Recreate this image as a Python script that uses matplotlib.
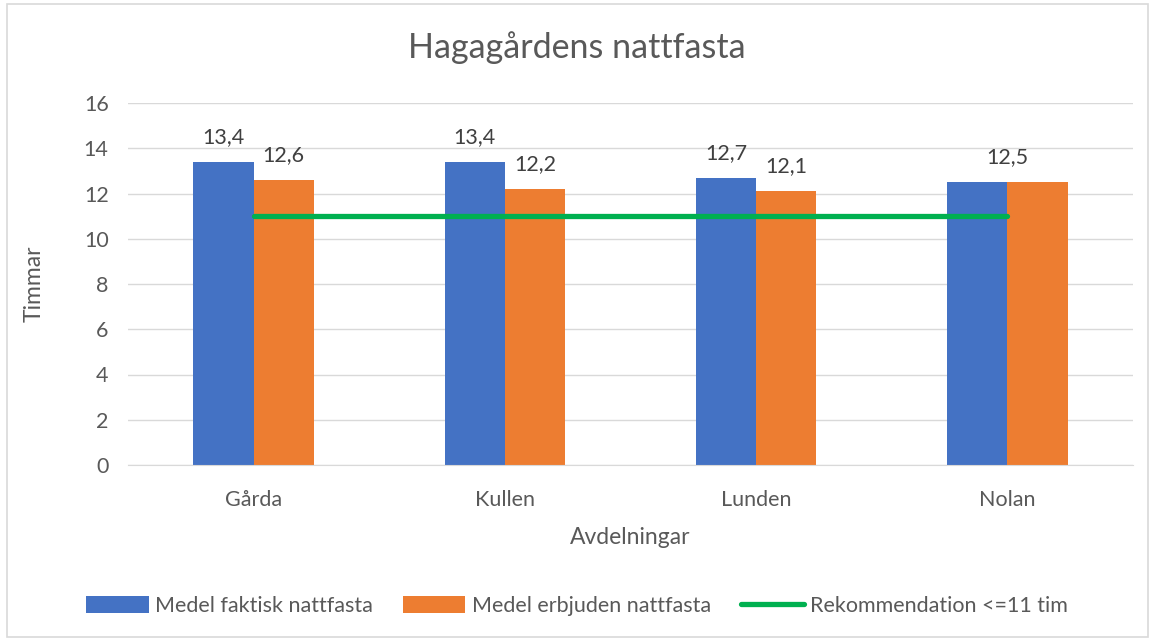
import matplotlib
matplotlib.use("Agg")
import matplotlib.pyplot as plt
import numpy as np
from matplotlib.patches import Rectangle

categories = ["Gårda", "Kullen", "Lunden", "Nolan"]
faktisk = [13.4, 13.4, 12.7, 12.5]
erbjuden = [12.6, 12.2, 12.1, 12.5]
rekommendation = [11, 11, 11, 11]
yticks = [0, 2, 4, 6, 8, 10, 12, 14, 16]

BLUE = "#4472C4"
ORANGE = "#ED7D31"
GREEN = "#00B050"
TXT = "#595959"
GRID = "#D9D9D9"

plt.rcParams["font.family"] = ["Lato", "DejaVu Sans"]

fig = plt.figure(figsize=(11.54, 6.41), dpi=100)
fig.patches.append(Rectangle((7 / 1154, 1 - 637 / 641), 1141 / 1154, 633 / 641,
                             transform=fig.transFigure, fill=False,
                             edgecolor=GRID, lw=1.2))
ax = fig.add_axes([128 / 1154, 1 - 465 / 641, 1005 / 1154, 362 / 641])

x = np.arange(len(categories))
w = 0.24
b1 = ax.bar(x - w / 2, faktisk, w, color=BLUE, label="Medel faktisk nattfasta", zorder=2)
b2 = ax.bar(x + w / 2, erbjuden, w, color=ORANGE, label="Medel erbjuden nattfasta", zorder=2)
ln, = ax.plot(x, rekommendation, color=GREEN, lw=3.8, solid_capstyle="round",
              label="Rekommendation <=11 tim", zorder=3)


def label(xv, v):
    ax.annotate(f"{v:.1f}".replace(".", ","), (xv, v), xytext=(0, 18),
                textcoords="offset points", ha="center", va="center",
                fontsize=15.5, color="#404040")


for i in range(len(categories)):
    a, b = faktisk[i], erbjuden[i]
    if a == b:
        label(x[i], a)
    else:
        label(x[i] - w / 2, a)
        label(x[i] + w / 2, b)

ax.set_xlim(-0.5, len(categories) - 0.5)
ax.set_ylim(0, 16)
ax.set_yticks(yticks)
ax.set_xticks(x)
ax.set_xticklabels(categories)
ax.tick_params(length=0, labelsize=15.5, colors=TXT)
ax.tick_params(axis="x", pad=18)
ax.tick_params(axis="y", pad=14)
ax.grid(axis="y", color=GRID, lw=1, zorder=0)
for s in ("top", "right", "left"):
    ax.spines[s].set_visible(False)
ax.spines["bottom"].set_color(GRID)
ax.set_axisbelow(True)

ax.set_xlabel("Avdelningar", fontsize=16.5, color=TXT, labelpad=12)
ax.set_ylabel("Timmar", fontsize=16.5, color=TXT, labelpad=28)
fig.text(0.5, 1 - 48 / 641, "Hagagårdens nattfasta", ha="center", va="center",
         fontsize=24.5, color=TXT)

fig.legend([b1, b2, ln], [b1.get_label(), b2.get_label(), ln.get_label()],
           loc="center", bbox_to_anchor=(0.5, 1 - 606 / 641), ncol=3,
           frameon=False, fontsize=15.5, handlelength=2.9, handleheight=0.8,
           handletextpad=0.3, columnspacing=1.4, labelcolor=TXT)

fig.savefig("out.png", dpi=100)
